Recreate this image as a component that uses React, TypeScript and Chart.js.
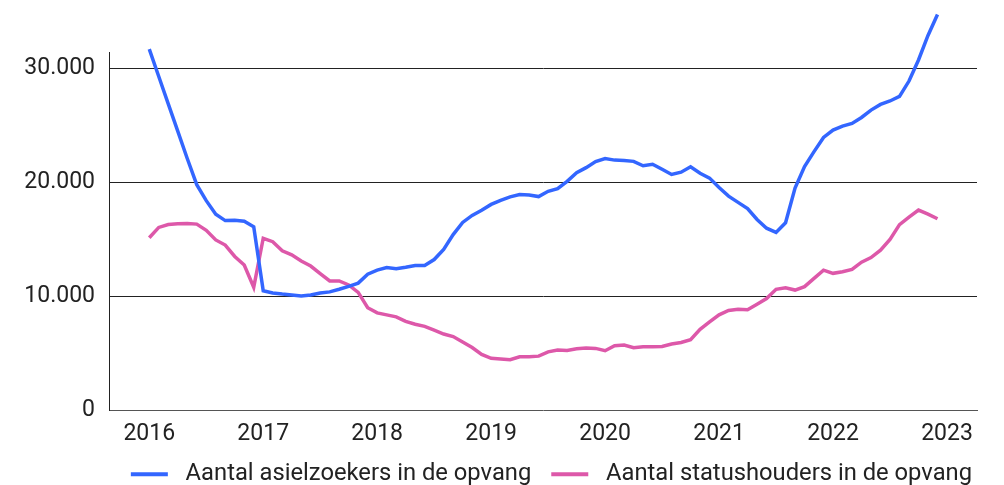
import React, { useEffect, useRef } from "react";
import { Chart, registerables } from "chart.js";

Chart.register(...registerables);

// Monthly observations, January 2016 .. December 2022
const yearLabels = ["2016", "2017", "2018", "2019", "2020", "2021", "2022", "2023"];

const asielzoekers = [
  31700, 29300, 26900, 24500, 22100, 19800, 18400, 17200, 16650, 16680, 16600, 16100,
  10490, 10300, 10200, 10120, 10020, 10120, 10290, 10390, 10620, 10880, 11160, 11950,
  12300, 12520, 12420, 12550, 12710, 12710, 13230, 14120, 15420, 16490, 17100, 17550,
  18070, 18430, 18730, 18940, 18900, 18760, 19220, 19450, 20100, 20850, 21300, 21830,
  22100, 21960, 21930, 21850, 21460, 21600, 21150, 20700, 20900, 21370, 20800, 20380,
  19550, 18800, 18250, 17700, 16750, 15980, 15610, 16460, 19500, 21400, 22700, 23950,
  24600, 24950, 25180, 25700, 26350, 26850, 27150, 27550, 28900, 30750, 32900, 34740,
];

const statushouders = [
  15140, 16050, 16300, 16380, 16400, 16340, 15800, 14950, 14500, 13500, 12750, 10800,
  15100, 14800, 14000, 13650, 13100, 12660, 12000, 11350, 11350, 11000, 10350, 9000,
  8550, 8370, 8200, 7800, 7550, 7360, 7030, 6690, 6470, 6000, 5510, 4900,
  4560, 4500, 4430, 4700, 4700, 4750, 5130, 5280, 5240, 5390, 5460, 5430,
  5230, 5670, 5730, 5490, 5580, 5580, 5600, 5820, 5950, 6200, 7100, 7750,
  8380, 8760, 8870, 8820, 9300, 9800, 10620, 10750, 10550, 10850, 11580, 12300,
  12020, 12160, 12370, 13000, 13400, 14050, 15000, 16300, 16950, 17570, 17220, 16810,
];

const seriesNames = ["Aantal asielzoekers in de opvang", "Aantal statushouders in de opvang"];
const yTicks = [0, 10000, 20000, 30000];

const BLUE = "#3366ff";
const PINK = "#dd58a9";
const FONT = "Roboto";

function formatNl(v: number): string {
  return String(Math.round(v)).replace(/\B(?=(\d{3})+(?!\d))/g, ".");
}

export default function App() {
  const ref = useRef<HTMLCanvasElement | null>(null);

  useEffect(() => {
    if (!ref.current) return;
    const toPoints = (arr: number[]) => arr.map((v, i) => ({ x: i, y: v }));
    const chart = new Chart(ref.current, {
      type: "line",
      data: {
        datasets: [
          {
            label: " " + seriesNames[0],
            data: toPoints(asielzoekers),
            borderColor: BLUE,
            backgroundColor: BLUE,
            borderWidth: 3.5,
            pointRadius: 0,
            tension: 0,
            clip: false as any,
          },
          {
            label: " " + seriesNames[1],
            data: toPoints(statushouders),
            borderColor: PINK,
            backgroundColor: PINK,
            borderWidth: 3.5,
            pointRadius: 0,
            tension: 0,
            clip: false as any,
          },
        ],
      },
      options: {
        responsive: true,
        maintainAspectRatio: false,
        animation: false,
        layout: { padding: { left: 0, right: 12, top: 52, bottom: 0 } },
        plugins: {
          tooltip: { enabled: false },
          legend: {
            position: "bottom",
            align: "end",
            labels: {
              color: "#222",
              font: { family: FONT, size: 23.75 },
              boxWidth: 37,
              boxHeight: 4,
              padding: 20,
              generateLabels: (c: any) => {
                const items = Chart.defaults.plugins.legend.labels.generateLabels(c);
                return items.map((it: any) => ({ ...it, lineWidth: 0 }));
              },
            },
          },
        },
        scales: {
          x: {
            type: "linear",
            min: -4.24,
            max: 87.16,
            grid: { display: false, drawTicks: false },
            border: { display: true, color: "#555", width: 1 },
            afterBuildTicks: (axis: any) => {
              axis.ticks = yearLabels.map((_, i) => ({ value: i * 12 }));
            },
            afterFit: (axis: any) => {
              axis.height = 32;
            },
            ticks: {
              color: "#222",
              font: { family: FONT, size: 23 },
              padding: 10,
              maxRotation: 0,
              autoSkip: false,
              callback: (v: any) => yearLabels[Math.round(Number(v) / 12)] ?? "",
            },
          },
          y: {
            type: "linear",
            min: 0,
            max: 31450,
            afterBuildTicks: (axis: any) => {
              axis.ticks = yTicks.map((v) => ({ value: v }));
            },
            afterFit: (axis: any) => {
              axis.width = 109;
            },
            grid: {
              drawTicks: false,
              color: (ctx: any) => (ctx.tick && ctx.tick.value === 0 ? "rgba(0,0,0,0)" : "#222"),
              lineWidth: 1,
            },
            border: { display: true, color: "#222", width: 1 },
            ticks: {
              color: "#222",
              font: { family: FONT, size: 23 },
              padding: 14,
              callback: (v: any) => formatNl(Number(v)),
            },
          },
          spacer: {
            type: "linear",
            position: "right",
            display: true,
            grid: { display: false, drawTicks: false },
            border: { display: false },
            ticks: { display: false },
            afterFit: (axis: any) => {
              axis.width = 15;
            },
          },
        },
      },
    });
    return () => chart.destroy();
  }, []);

  return (
    <div style={{ position: "fixed", left: 0, top: 0, width: 1004, height: 496, background: "#fff" }}>
      <canvas ref={ref} />
    </div>
  );
}
